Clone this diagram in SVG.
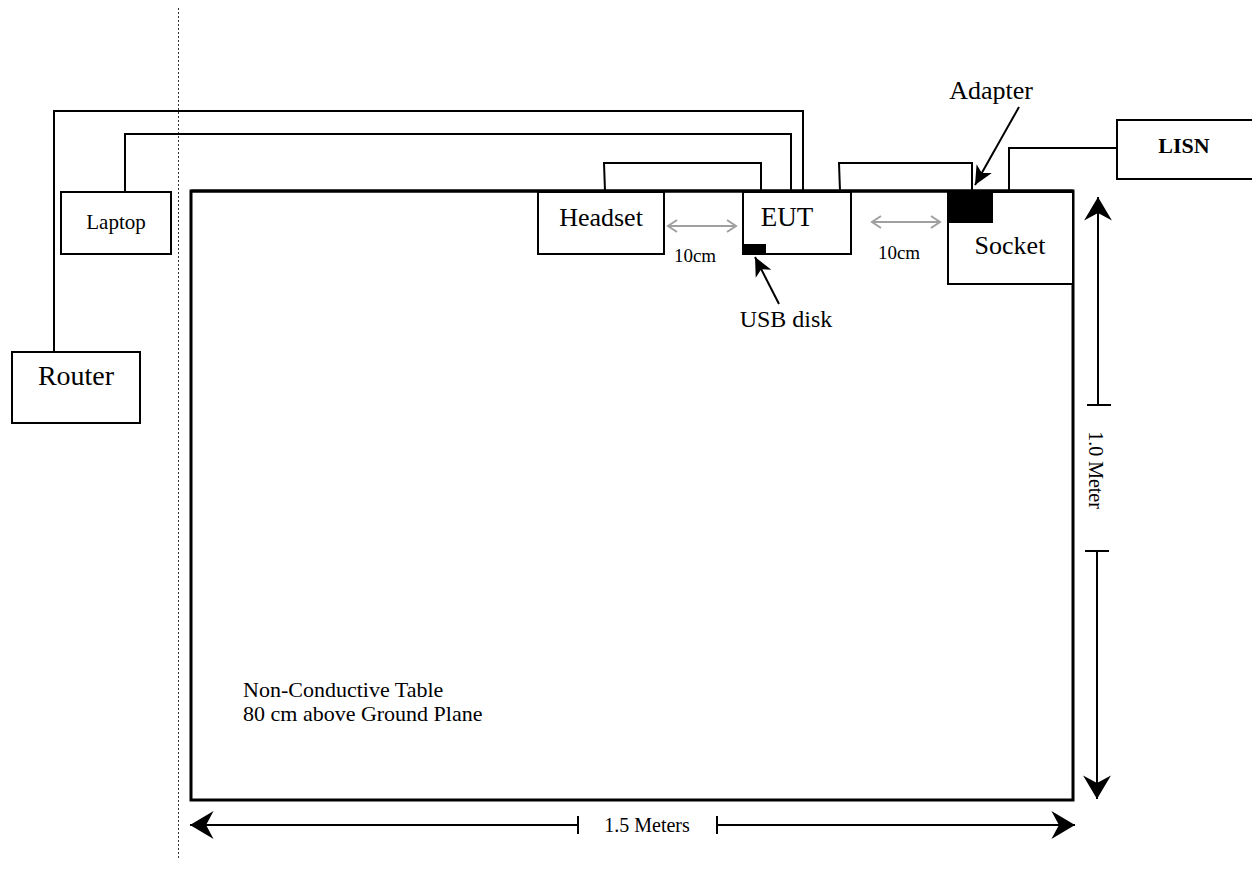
<svg xmlns="http://www.w3.org/2000/svg" width="1252" height="893" viewBox="0 0 1252 893">
<style>
  .box { fill: #fff; stroke: #000; stroke-width: 2; }
  .wire { fill: none; stroke: #000; stroke-width: 2; }
  .t { font-family: "Liberation Serif", "Times New Roman", serif; fill: #000; }
  .dim { fill: none; stroke: #000; stroke-width: 2; }
  .gray { fill: none; stroke: #a0a0a0; stroke-width: 2; }
</style>
<defs>
  <marker id="barb" markerUnits="userSpaceOnUse" markerWidth="30" markerHeight="30" viewBox="0 -14 24 28" refX="22" refY="0" orient="auto-start-reverse" overflow="visible">
    <path d="M22,0 L0,-13 L7,0 L0,13 Z" fill="#000"/>
  </marker>
  <marker id="small" markerUnits="userSpaceOnUse" markerWidth="20" markerHeight="20" viewBox="0 -8 16 16" refX="15" refY="0" orient="auto" overflow="visible">
    <path d="M15,0 L0,-7 L4,0 L0,7 Z" fill="#000"/>
  </marker>
  <marker id="open" markerUnits="userSpaceOnUse" markerWidth="16" markerHeight="16" viewBox="-1 -8 12 16" refX="10" refY="0" orient="auto-start-reverse" overflow="visible">
    <path d="M1,-6 L10,0 L1,6" fill="none" stroke="#a0a0a0" stroke-width="2"/>
  </marker>
</defs>

<!-- dotted boundary -->
<line x1="178.5" y1="8" x2="178.5" y2="858" stroke="#333" stroke-width="1" stroke-dasharray="2,2"/>

<!-- table -->
<g id="table">
  <rect x="191" y="191" width="882" height="609" fill="#fff" stroke="#000" stroke-width="3"/>
  <text class="t" x="243" y="697" font-size="22">Non-Conductive Table</text>
  <text class="t" x="243" y="721" font-size="22">80 cm above Ground Plane</text>
</g>

<g id="connectors">
  <!-- router wire -->
  <polyline class="wire" points="54,352 54,111 803,111 803,191"/>
  <!-- laptop wire -->
  <polyline class="wire" points="125,192 125,134 791,134 791,191"/>
  <!-- headset to EUT -->
  <polyline class="wire" points="605,191 604,163 761,163 761,191"/>
  <!-- EUT to adapter -->
  <polyline class="wire" points="840,191 839,163 972,163 972,191"/>
  <!-- adapter/socket to LISN -->
  <polyline class="wire" stroke-width="3" points="1009,191 1009,148 1117,148"/>
  <!-- table top edge over wires -->
  <line x1="191" y1="191" x2="1073" y2="191" stroke="#000" stroke-width="3"/>
  <!-- 10cm gaps -->
  <line class="gray" x1="668" y1="226" x2="736" y2="226" marker-start="url(#open)" marker-end="url(#open)"/>
  <line class="gray" x1="872" y1="222" x2="940" y2="222" marker-start="url(#open)" marker-end="url(#open)"/>
  <!-- label pointers -->
  <line x1="779" y1="304" x2="755" y2="257" stroke="#000" stroke-width="2" marker-end="url(#small)"/>
  <line x1="1019" y1="107" x2="975" y2="185" stroke="#000" stroke-width="2" marker-end="url(#small)"/>
  <!-- vertical dimension -->
  <line class="dim" x1="1098" y1="405" x2="1098" y2="197" marker-end="url(#barb)"/>
  <line class="dim" x1="1087" y1="405" x2="1111" y2="405"/>
  <line class="dim" x1="1085" y1="551" x2="1109" y2="551"/>
  <line class="dim" x1="1097" y1="551" x2="1097" y2="799" marker-end="url(#barb)"/>
  <!-- horizontal dimension -->
  <line class="dim" x1="578" y1="825" x2="190" y2="825" marker-end="url(#barb)"/>
  <line class="dim" x1="578" y1="816" x2="578" y2="834"/>
  <line class="dim" x1="717" y1="816" x2="717" y2="834"/>
  <line class="dim" x1="717" y1="825" x2="1075" y2="825" marker-end="url(#barb)"/>
</g>

<g id="router">
  <rect class="box" x="12" y="352" width="128" height="71"/>
  <text class="t" x="76" y="385" font-size="28" text-anchor="middle">Router</text>
</g>

<g id="laptop">
  <rect class="box" x="61" y="192" width="110" height="62"/>
  <text class="t" x="116" y="229" font-size="21" text-anchor="middle">Laptop</text>
</g>

<g id="headset">
  <rect class="box" x="538" y="192" width="126" height="62"/>
  <text class="t" x="601" y="226" font-size="26" text-anchor="middle">Headset</text>
</g>

<g id="eut">
  <rect class="box" x="743" y="192" width="108" height="62"/>
  <text class="t" x="787" y="226" font-size="27" text-anchor="middle">EUT</text>
</g>

<g id="usb">
  <rect x="743" y="244" width="23" height="10" fill="#000"/>
  <text class="t" x="786" y="327" font-size="24" text-anchor="middle">USB disk</text>
</g>

<g id="socket">
  <rect class="box" x="948" y="192" width="125" height="92"/>
  <text class="t" x="1010" y="254" font-size="26" text-anchor="middle">Socket</text>
</g>

<g id="adapter">
  <rect x="948" y="191" width="45" height="32" fill="#000"/>
  <text class="t" x="991" y="99" font-size="26" text-anchor="middle">Adapter</text>
</g>

<g id="lisn">
  <rect class="box" x="1117" y="120" width="140" height="59"/>
  <text class="t" x="1184" y="153" font-size="22" font-weight="bold" text-anchor="middle">LISN</text>
</g>

<g id="labels">
  <text class="t" x="695" y="262" font-size="19" text-anchor="middle">10cm</text>
  <text class="t" x="899" y="259" font-size="19" text-anchor="middle">10cm</text>
  <text class="t" x="647" y="832" font-size="20" text-anchor="middle">1.5 Meters</text>
  <text class="t" font-size="20" text-anchor="middle" transform="translate(1089 470) rotate(90)">1.0 Meter</text>
</g>
</svg>
